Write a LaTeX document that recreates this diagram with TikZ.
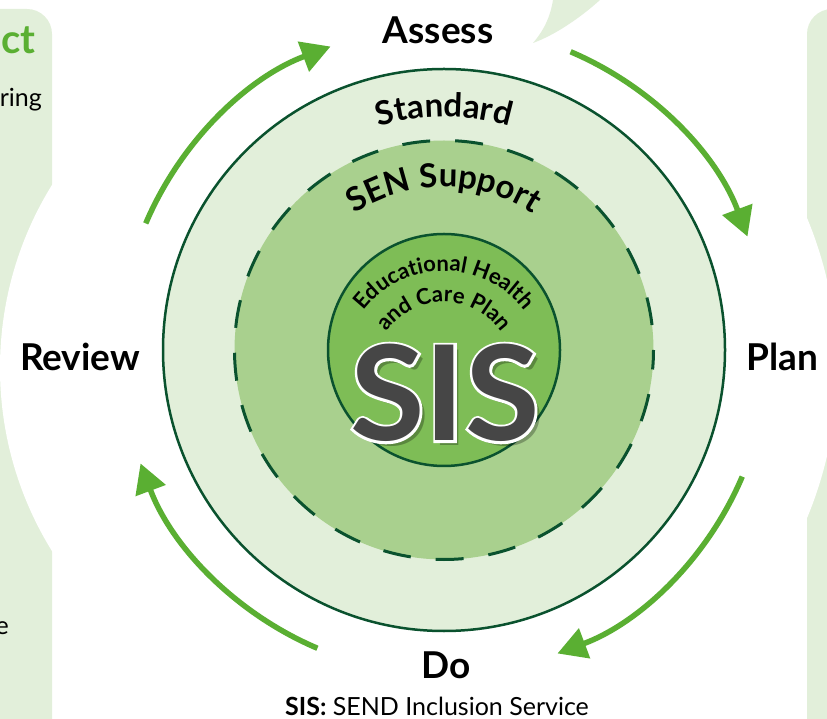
\documentclass[tikz,border=0pt]{standalone}
\usepackage{fontspec}
\setmainfont{Lato}
\usepackage{xcolor}
\usetikzlibrary{arrows.meta, decorations.text, positioning, calc}

\definecolor{panelgreen}{RGB}{226,239,218}
\definecolor{midgreen}{RGB}{169,208,142}
\definecolor{coregreen}{RGB}{126,189,86}
\definecolor{ringdark}{RGB}{10,82,46}
\definecolor{arrowgreen}{RGB}{90,175,50}
\definecolor{sisgray}{RGB}{70,70,70}

% white outline of letters (stroke only)
\newcommand{\outlined}[1]{\special{pdf:literal direct 1 Tr 5 w 1 1 1 RG}#1\special{pdf:literal direct 0 Tr}}

\begin{document}
\begin{tikzpicture}[x=1pt, y=1pt,
    stage/.style={font=\bfseries\fontsize{37}{37}\selectfont, inner sep=0pt},
    cyclearrow/.style={arrowgreen, line width=5.5pt, -{Triangle[length=29pt, width=31pt]}},
    sisfont/.style={font=\bfseries\fontsize{132}{132}\selectfont, inner sep=0pt, xscale=1.03}]
    \useasboundingbox (0,0) rectangle (827,718);
    \clip (0,0) rectangle (827,718);

    % Side panels with white cut-outs
    \fill[panelgreen, rounded corners=25pt] (-40,-40) rectangle (52,709);
    \fill[panelgreen, rounded corners=25pt] (807,-40) rectangle (880,709);
    \fill[white] (348,350) circle[radius=348];
    \fill[white] (448,350) circle[radius=389];
    \fill[panelgreen] (533,675) .. controls (546,690) and (551,705) .. (553,718)
        -- (600,718) .. controls (580,700) and (555,683) .. (533,675);
    \node[anchor=base east, inner sep=0pt, text=arrowgreen, font=\bfseries\fontsize{40}{40}\selectfont] (paneltitle) at (36,664) {ct};
    \node[anchor=base east, inner sep=0pt, font=\fontsize{25}{25}\selectfont] (panelline) at (42,611) {ring};
    \node[anchor=base east, inner sep=0pt, font=\fontsize{25}{25}\selectfont] (panelend) at (9,84) {e};

    % Rings
    \coordinate (c) at (444,368);
    \draw[ringdark, line width=2.5pt, fill=panelgreen] (c) circle[radius=281];
    \draw[ringdark, line width=3pt, fill=midgreen, dash pattern=on 28pt off 25pt, dash phase=28pt] (c) circle[radius=209.5];
    \draw[ringdark, line width=2.5pt, fill=coregreen] (c) circle[radius=116];

    % Ring titles
    \path[decorate, decoration={text along path, text align=center,
        text={|\bfseries\fontsize{33}{33}\selectfont|Standard}}]
        (c) ++(160:233) arc[start angle=160, end angle=20, radius=233];
    \path[decorate, decoration={text along path, text align=center,
        text={|\bfseries\fontsize{33}{33}\selectfont|SEN Support}}]
        (c) ++(170:163) arc[start angle=170, end angle=10, radius=163];
    \coordinate (plantext) at (444,346);
    \path[decorate, decoration={text along path, text align=center,
        text={|\bfseries\fontsize{22}{22}\selectfont|Educational Health}}]
        (plantext) ++(175:101) arc[start angle=175, end angle=5, radius=101];
    \path[decorate, decoration={text along path, text align=center,
        text={|\bfseries\fontsize{22}{22}\selectfont|and Care Plan}}]
        (plantext) ++(175:70) arc[start angle=175, end angle=5, radius=70];

    % SIS logo: soft shadow, white edge, letters
    \coordinate (sispos) at (445,325);
    \node[sisfont, text=black, opacity=0.28] (sisshadow) at ($(sispos)+(5,-5)$) {SIS};
    \node[sisfont, text=white] (sisedge) at (sispos) {\outlined{SIS}};
    \node[sisfont, text=sisgray] (sis) at (sispos) {SIS};

    % Cycle arrows
    \foreach \a in {157,67,-23,-113}
        \draw[cyclearrow] (c) ++(\a:324) arc[start angle=\a, end angle=\a-46.5, radius=324];

    % Stage labels
    \node[stage] (assess) at (438,688) {Assess};
    \node[stage] (plan) at (782,361) {Plan};
    \node[stage] (do) at (446,53) {Do};
    \node[stage] (review) at (80,361) {Review};
    \node[inner sep=0pt, font=\fontsize{25}{25}\selectfont] (key) at (437,12) {\textbf{SIS:} SEND Inclusion Service};

\end{tikzpicture}
\end{document}
